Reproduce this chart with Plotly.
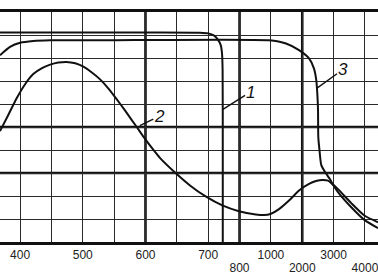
import numpy as np
import plotly.graph_objects as go

# ---- data ----
TICK_WL = [400, 450, 500, 550, 600, 650, 700, 800, 1000, 2000, 3000, 4000]
TICK_TEXT = ["400", "", "500", "", "600", "", "700", "", "1000", "", "3000", ""]
LOWER_TICK_WL = [800, 2000, 4000]
LOWER_TICK_TEXT = ["800", "2000", "4000"]
THICK_X = [600, 800, 2000]
THICK_Y = [30, 50]

c1_wl = [368, 607, 687, 700, 719, 731, 740, 744, 746, 746.5, 746.5]
c1_t = [91.1, 91.1, 91.0, 90.7, 89.7, 88.0, 85.6, 82.1, 74.7, 40, -3]

c2_wl = [368, 381, 395, 408, 421, 435, 448, 461, 474, 488, 501, 514, 528, 541, 554, 567,
         586, 597, 613, 623, 648, 671, 696, 745, 798, 903, 956, 1004, 1259, 1578, 1897,
         2216, 2439, 2640, 2821, 2927, 3140, 3564, 3992, 4416]
c2_t = [48.2, 55.1, 62.7, 68.6, 73.0, 75.6, 77.1, 78.0, 78.3, 77.7, 76.2, 73.8, 70.6, 66.7,
        62.1, 57.3, 50.0, 45.7, 39.9, 36.6, 30.0, 24.6, 19.8, 15.9, 13.4, 12.0, 11.7, 12.3,
        14.3, 18.0, 22.4, 25.3, 26.5, 27.0, 26.7, 25.6, 23.0, 16.9, 11.4, 8.6]

c3_wl = [368, 384, 400, 421, 448, 528, 988, 1482, 1897, 2216, 2375, 2448, 2480, 2503, 2512,
         2550, 2608, 2742, 2876, 2981, 3140, 3564, 3992, 4416]
c3_t = [81.2, 84.8, 86.6, 87.4, 87.7, 87.7, 87.7, 86.3, 83.4, 79.8, 75.4, 70.3, 64.6, 57.3,
        45.6, 39.9, 33.4, 30.1, 27.5, 24.9, 21.7, 15.1, 9.5, 6.0]

# label: name, curve point (wl, T), text point (wl, T)
LABELS = [("1", (747, 57.7), (867, 65.1)),
          ("2", (591, 50.6), (622, 54.7)),
          ("3", (2471, 66.9), (3284, 74.9))]

X_RANGE_WL = (368, 4416)


def pos(wl):
    wl = np.atleast_1d(np.asarray(wl, dtype=float))
    idx = np.arange(len(TICK_WL), dtype=float)
    out = np.interp(wl, TICK_WL, idx)
    lo = wl < TICK_WL[0]
    hi = wl > TICK_WL[-1]
    out[lo] = (wl[lo] - TICK_WL[0]) / (TICK_WL[1] - TICK_WL[0])
    out[hi] = idx[-1] + (wl[hi] - TICK_WL[-1]) / (TICK_WL[-1] - TICK_WL[-2])
    return out


fig = go.Figure()
for wl, t in [(c1_wl, c1_t), (c2_wl, c2_t), (c3_wl, c3_t)]:
    fig.add_trace(go.Scatter(x=pos(wl), y=t, mode="lines",
                             line=dict(color="#111", width=2, shape="spline", smoothing=0.6),
                             hoverinfo="skip", showlegend=False))
# empty trace so the second (lower label row) axis is registered
fig.add_trace(go.Scatter(x=[], y=[], xaxis="x2", yaxis="y", showlegend=False, hoverinfo="skip"))

shapes = []
for w in THICK_X:
    p = float(pos(w)[0])
    shapes.append(dict(type="line", xref="x", yref="paper", x0=p, x1=p, y0=0, y1=1,
                       line=dict(color="#111", width=2.6), layer="below"))
for v in THICK_Y:
    shapes.append(dict(type="line", xref="paper", yref="y", x0=0, x1=1, y0=v, y1=v,
                       line=dict(color="#111", width=2.6), layer="below"))

annotations = []
for name, (pw, pt), (tw, tt) in LABELS:
    annotations.append(dict(x=float(pos(pw)[0]), y=pt, ax=float(pos(tw)[0]), ay=tt,
                            xref="x", yref="y", axref="x", ayref="y",
                            text="<i>" + name + "</i>", showarrow=True, arrowhead=0,
                            arrowwidth=1.4, arrowcolor="#111", borderpad=0,
                            font=dict(family="Liberation Sans, Arial", size=17, color="#111")))

xr = [float(v) for v in pos(list(X_RANGE_WL))]
tickfont = dict(family="Liberation Sans, Arial", size=12, color="#222")
fig.update_layout(
    width=378, height=274,
    margin=dict(l=0, r=0, t=12, b=32, pad=0),
    paper_bgcolor="white", plot_bgcolor="white",
    template="none",
    shapes=shapes, annotations=annotations,
    xaxis=dict(range=xr, tickmode="array",
               tickvals=list(pos(TICK_WL)), ticktext=TICK_TEXT,
               showgrid=True, gridcolor="#2a2a2a", gridwidth=1.3, zeroline=False,
               showline=True, linecolor="#111", linewidth=2.6, mirror=True,
               ticks="", tickfont=tickfont, ticklabeloverflow="allow",
               automargin=False, fixedrange=True),
    xaxis2=dict(range=xr, overlaying="x", anchor="y", side="bottom", tickmode="array",
                tickvals=list(pos(LOWER_TICK_WL)), ticktext=LOWER_TICK_TEXT,
                showgrid=False, zeroline=False, showline=False, ticks="",
                tickfont=tickfont, ticklabelstandoff=17, ticklabeloverflow="allow",
                automargin=False, fixedrange=True),
    yaxis=dict(range=[0, 100], dtick=10, tick0=0, showticklabels=False,
               showgrid=True, gridcolor="#2a2a2a", gridwidth=1.3, zeroline=False,
               showline=False, ticks="", automargin=False, fixedrange=True),
)
fig.write_html("out.html")
